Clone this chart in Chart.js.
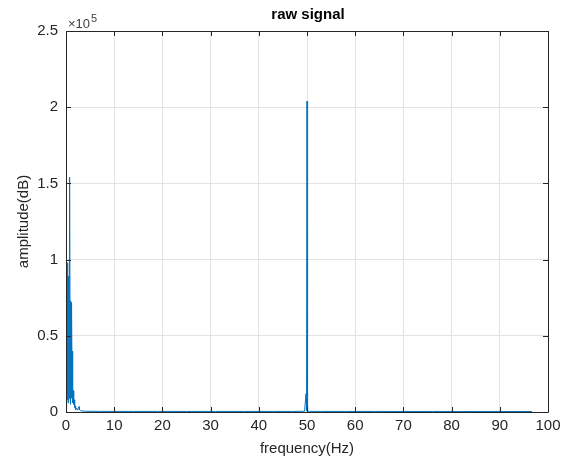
<!DOCTYPE html>
<html>
<head>
<meta charset="utf-8">
<script src="https://cdn.jsdelivr.net/npm/chart.js@4.4.0/dist/chart.umd.min.js"></script>
<style>
  html, body { margin: 0; padding: 0; background: #fff; }
  #wrap { width: 568px; height: 460px; }
</style>
</head>
<body>
<div id="wrap"><canvas id="rawSignal" width="568" height="460"></canvas></div>
<script>
// spectrum samples (frequency in Hz, amplitude raw units)
var freq = [0, 0.05, 0.1, 0.15, 0.2, 0.25, 0.3, 0.35, 0.4, 0.45, 0.5, 0.55, 0.6, 0.65, 0.7, 0.75,
    0.8, 0.85, 0.9, 0.95, 1.0, 1.05, 1.1, 1.15, 1.2, 1.25, 1.3, 1.35, 1.4, 1.45, 1.5, 1.6,
    1.7, 1.8, 1.9, 2.0, 2.2, 2.4, 2.6, 2.7, 2.8, 3.0, 3.3, 3.6, 4.0, 5, 7, 10, 14, 19, 25,
    31, 37, 43, 47, 49.5, 49.8, 49.85, 49.9, 49.95, 50.0, 50.05, 50.1, 50.2, 50.5, 53,
    58, 64, 70, 76, 82, 88, 93, 96.7];
var amp = [28000, 4000, 97000, 12000, 64000, 8000, 98000, 21000, 72000, 6000, 89000, 15000,
    70000, 9000, 99000, 30000, 154000, 12000, 73000, 5000, 71000, 18000, 69000, 9000, 72000,
    22000, 40000, 6000, 21000, 9000, 14000, 5000, 8000, 3000, 4000, 1500, 2500, 1200, 2800,
    3500, 1500, 1000, 700, 600, 500, 450, 400, 420, 380, 400, 360, 380, 350, 370, 360, 500,
    12000, 800, 3000, 1500, 204000, 133000, 2000, 600, 450, 380, 350, 360, 340, 350, 330,
    340, 320, 300];
var xTicks = [0, 10, 20, 30, 40, 50, 60, 70, 80, 90, 100];
var yTicks = [0, 50000, 100000, 150000, 200000, 250000];

var points = freq.map(function (f, i) { return { x: f, y: amp[i] }; });
var font = 'Liberation Sans, Arial, sans-serif';
var boxColor = '#262626';

// box around the axes, inward ticks on all four sides, title and the x10^5 factor
var matlabBox = {
    id: 'matlabBox',
    afterDraw: function (chart) {
        var ctx = chart.ctx, a = chart.chartArea;
        var xs = chart.scales.x, ys = chart.scales.y;
        ctx.save();
        ctx.strokeStyle = boxColor;
        ctx.lineWidth = 1;
        ctx.beginPath();
        ctx.rect(Math.round(a.left) + 0.5, Math.round(a.top) + 0.5,
            Math.round(a.right - a.left), Math.round(a.bottom - a.top));
        ctx.stroke();
        ctx.beginPath();
        xTicks.forEach(function (v) {
            var px = Math.round(xs.getPixelForValue(v)) + 0.5;
            ctx.moveTo(px, a.bottom); ctx.lineTo(px, a.bottom - 5);
            ctx.moveTo(px, a.top); ctx.lineTo(px, a.top + 5);
        });
        yTicks.forEach(function (v) {
            var py = Math.round(ys.getPixelForValue(v)) + 0.5;
            ctx.moveTo(a.left, py); ctx.lineTo(a.left + 5, py);
            ctx.moveTo(a.right, py); ctx.lineTo(a.right - 5, py);
        });
        ctx.stroke();

        ctx.fillStyle = '#000';
        ctx.font = 'bold 15px ' + font;
        ctx.textAlign = 'center';
        ctx.textBaseline = 'middle';
        ctx.fillText('raw signal', (a.left + a.right) / 2 + 1, 15);

        ctx.fillStyle = '#404040';
        ctx.textAlign = 'left';
        ctx.textBaseline = 'alphabetic';
        ctx.font = '13px ' + font;
        ctx.fillText('\u00d710', a.left + 2, a.top - 3);
        var w = ctx.measureText('\u00d710').width;
        ctx.font = '11px ' + font;
        ctx.fillText('5', a.left + 3 + w, a.top - 9);
        ctx.restore();
    }
};

var chart = new Chart(document.getElementById('rawSignal').getContext('2d'), {
    type: 'line',
    data: {
        datasets: [
            {
                data: points,
                borderColor: '#0072BD',
                borderWidth: 1,
                pointRadius: 0,
                fill: false,
                tension: 0
            }
        ]
    },
    options: {
        responsive: false,
        animation: false,
        layout: { padding: { left: 0, top: 31, right: 20, bottom: 0 } },
        plugins: { legend: { display: false }, tooltip: { enabled: false } },
        scales: {
            x: {
                type: 'linear', min: 0, max: 100,
                afterFit: function (s) { s.height = 48; },
                afterBuildTicks: function (s) { s.ticks = xTicks.map(function (v) { return { value: v }; }); },
                grid: { color: '#e3e3e3', drawTicks: false },
                border: { display: false },
                ticks: { padding: 5, color: '#262626', font: { family: font, size: 15 }, maxRotation: 0 },
                title: { display: true, text: 'frequency(Hz)', color: '#262626',
                    font: { family: font, size: 15 }, padding: { top: 0, bottom: 2 } }
            },
            y: {
                min: 0, max: 250000,
                afterFit: function (s) { s.width = 66; },
                afterBuildTicks: function (s) { s.ticks = yTicks.map(function (v) { return { value: v }; }); },
                grid: { color: '#e3e3e3', drawTicks: false },
                border: { display: false },
                ticks: {
                    padding: 8, color: '#262626', font: { family: font, size: 15 },
                    callback: function (v) { return String(v / 100000); }
                },
                title: { display: true, text: 'amplitude(dB)', color: '#262626',
                    font: { family: font, size: 15 }, padding: { top: 15, bottom: 0 } }
            }
        }
    },
    plugins: [matlabBox]
});
</script>
</body>
</html>
